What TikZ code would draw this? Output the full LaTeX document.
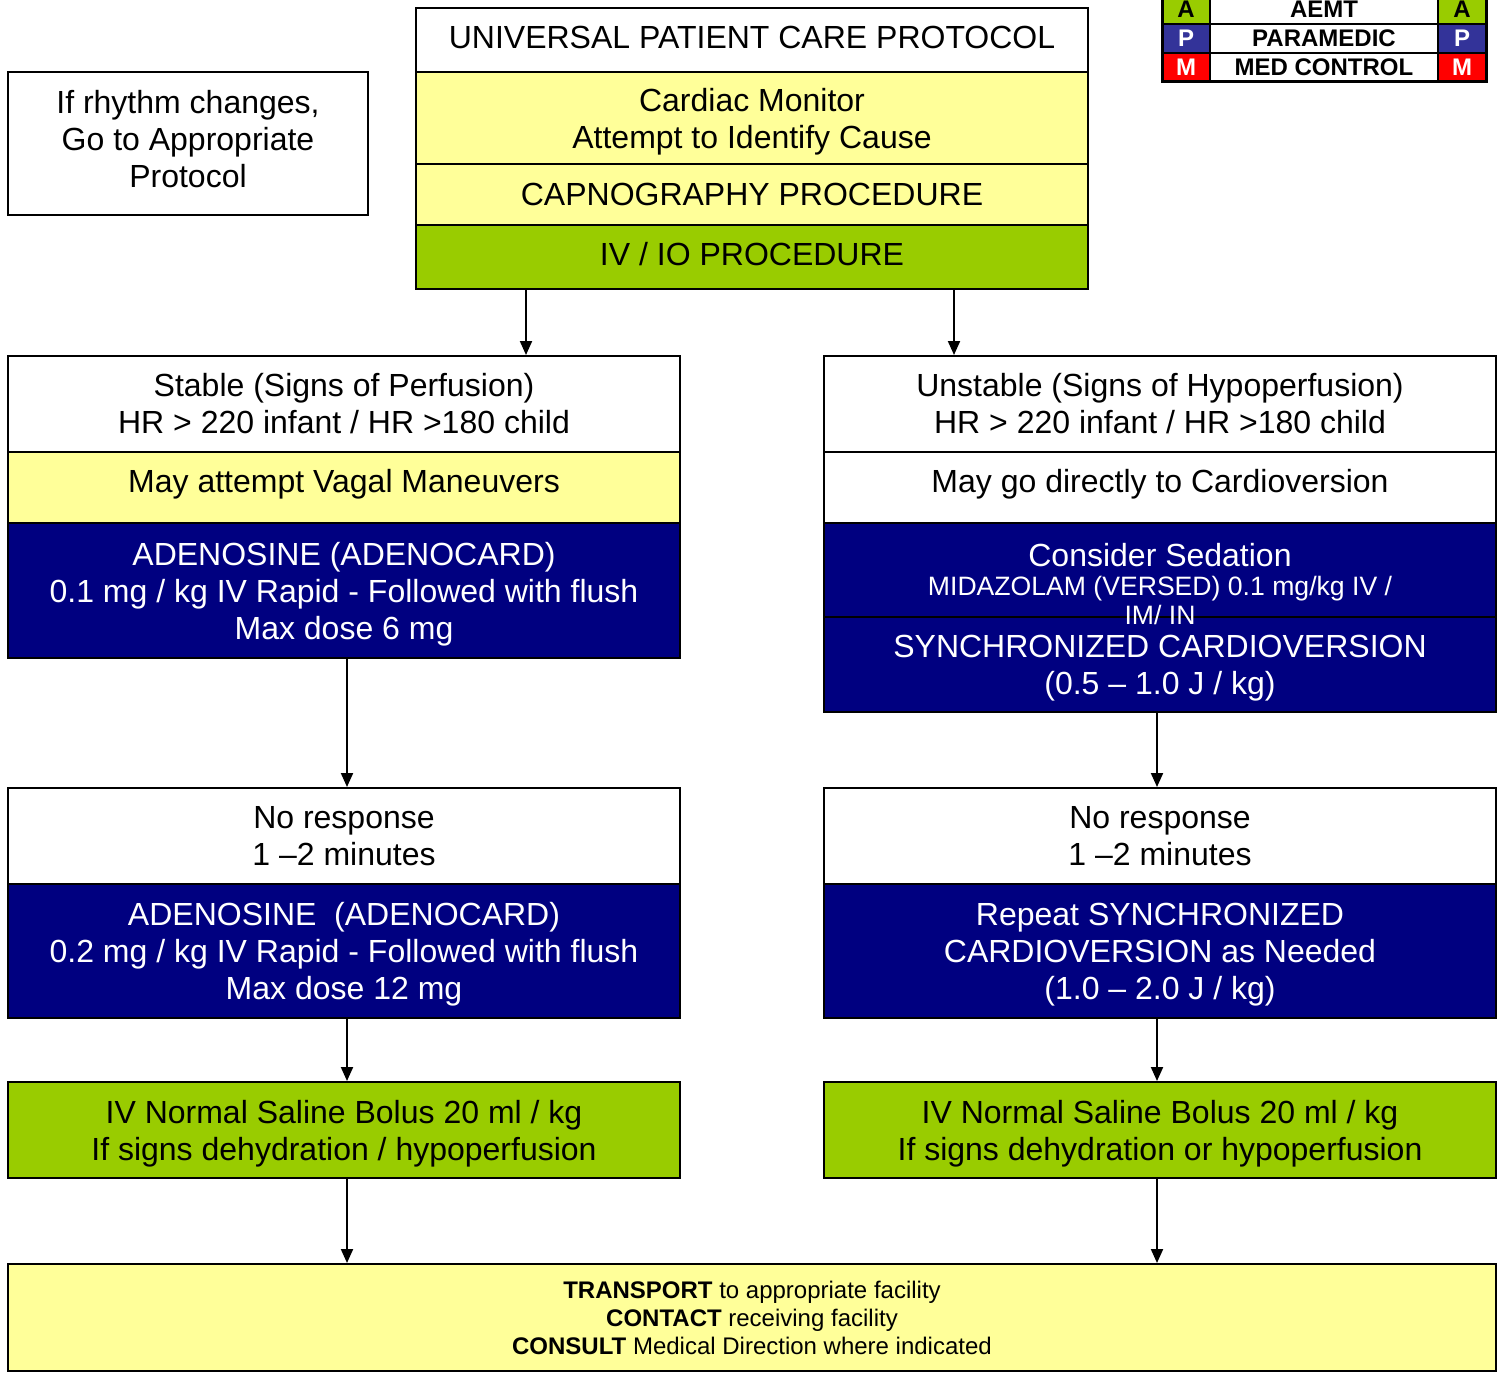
\documentclass[tikz,border=0pt]{standalone}
\usepackage{fontspec}
\setmainfont{Liberation Sans}
\usetikzlibrary{arrows.meta}
\definecolor{protoyellow}{HTML}{FFFF99}
\definecolor{protogreen}{HTML}{99CC00}
\definecolor{protonavy}{HTML}{000080}
\definecolor{legblue}{HTML}{333399}
\definecolor{legred}{HTML}{FF0000}

\begin{document}
\begin{tikzpicture}[x=1pt,y=-1pt,
  box/.style={draw=black, line width=2pt, minimum width=672pt, inner sep=0pt, align=center, font=\fontsize{32}{37}\selectfont},
  whitebox/.style={box, fill=white},
  yellowbox/.style={box, fill=protoyellow},
  greenbox/.style={box, fill=protogreen},
  navybox/.style={box, fill=protonavy, text=white},
  lowtext/.style={text depth=0pt},
  flow/.style={line width=2pt, -{Triangle[length=14pt,width=12pt]}},
  legcell/.style={draw=black, line width=2pt, inner sep=0pt, minimum height=29pt, font=\fontsize{24}{24}\selectfont\bfseries}]
\useasboundingbox (0,0) rectangle (1503,1374);

% top stack
\node[whitebox, minimum height=64pt, text depth=6pt] (upc) at (752,40) {UNIVERSAL PATIENT CARE PROTOCOL};
\node[yellowbox, lowtext, minimum height=92pt] (cardiac) at (752,118) {Cardiac Monitor\\Attempt to Identify Cause};
\node[yellowbox, minimum height=61pt] (capno) at (752,194.5) {CAPNOGRAPHY PROCEDURE};
\node[greenbox, minimum height=64pt, text depth=6pt] (ivio) at (752,257) {IV / IO PROCEDURE};

% note
\node[whitebox, minimum width=360pt, minimum height=143pt, text depth=10pt] (note) at (188,143.5) {If rhythm changes,\\Go to Appropriate\\Protocol};

% legend
\node[legcell, fill=protogreen, minimum width=48pt] (la) at (1186,9.5) {A};
\node[legcell, fill=white, minimum width=228pt] (lat) at (1324,9.5) {AEMT};
\node[legcell, fill=protogreen, minimum width=48pt] (ra) at (1462,9.5) {A};
\node[legcell, fill=legblue, text=white, minimum width=48pt] (lp) at (1186,38.5) {P};
\node[legcell, fill=white, minimum width=228pt] (lpt) at (1324,38.5) {PARAMEDIC};
\node[legcell, fill=legblue, text=white, minimum width=48pt] (rp) at (1462,38.5) {P};
\node[legcell, fill=legred, text=white, minimum width=48pt, minimum height=28pt] (lm) at (1186,67) {M};
\node[legcell, fill=white, minimum width=228pt, minimum height=28pt] (lmt) at (1324,67) {MED CONTROL};
\node[legcell, fill=legred, text=white, minimum width=48pt, minimum height=28pt] (rm) at (1462,67) {M};
\draw[line width=3pt] (1162,-6) rectangle (1486,81);

% stable side
\node[whitebox, minimum height=96pt] (stab) at (344,404) {Stable (Signs of Perfusion)\\HR > 220 infant / HR >180 child};
\node[yellowbox, minimum height=71pt, text depth=14pt] (vagal) at (344,487.5) {May attempt Vagal Maneuvers};
\node[navybox, lowtext, minimum height=135pt] (aden1) at (344,590.5) {ADENOSINE (ADENOCARD)\\0.1 mg / kg IV Rapid - Followed with flush\\Max dose 6 mg};
\node[whitebox, minimum height=96pt] (nor1) at (344,836) {No response\\1 --2 minutes};
\node[navybox, lowtext, minimum height=134pt] (aden2) at (344,951) {ADENOSINE\ \ (ADENOCARD)\\0.2 mg / kg IV Rapid - Followed with flush\\Max dose 12 mg};
\node[greenbox, lowtext, minimum height=96pt] (ns1) at (344,1130) {IV Normal Saline Bolus 20 ml / kg\\If signs dehydration / hypoperfusion};

% unstable side
\node[whitebox, minimum height=96pt] (unst) at (1160,404) {Unstable (Signs of Hypoperfusion)\\HR > 220 infant / HR >180 child};
\node[whitebox, minimum height=71pt, text depth=14pt] (direct) at (1160,487.5) {May go directly to Cardioversion};
\node[navybox, lowtext, minimum height=95pt] (cardio) at (1160,664.5) {SYNCHRONIZED CARDIOVERSION\\(0.5 -- 1.0 J / kg)};
\node[navybox, minimum height=94pt] (sedat) at (1160,570) {};
\node[text=white, align=center, inner sep=0pt, font=\fontsize{26.6}{29}\selectfont] (sedtxt) at (1160,584)
  {{\fontsize{32}{32}\selectfont Consider Sedation}\\MIDAZOLAM (VERSED) 0.1 mg/kg IV /\\IM/ IN};
\node[whitebox, minimum height=96pt] (nor2) at (1160,836) {No response\\1 --2 minutes};
\node[navybox, lowtext, minimum height=134pt] (rep) at (1160,951) {Repeat SYNCHRONIZED\\CARDIOVERSION as Needed\\(1.0 -- 2.0 J / kg)};
\node[greenbox, lowtext, minimum height=96pt] (ns2) at (1160,1130) {IV Normal Saline Bolus 20 ml / kg\\If signs dehydration or hypoperfusion};

% transport
\node[yellowbox, minimum width=1488pt, minimum height=107pt, font=\fontsize{24}{28}\selectfont] (trans) at (752,1317.5)
  {\textbf{TRANSPORT} to appropriate facility\\\textbf{CONTACT} receiving facility\\\textbf{CONSULT} Medical Direction where indicated};

% arrows
\draw[flow] (526,0 |- ivio.south) -- (526,0 |- stab.north);
\draw[flow] (954,0 |- ivio.south) -- (954,0 |- unst.north);
\draw[flow] (347,0 |- aden1.south) -- (347,0 |- nor1.north);
\draw[flow] (1157,0 |- cardio.south) -- (1157,0 |- nor2.north);
\draw[flow] (347,0 |- aden2.south) -- (347,0 |- ns1.north);
\draw[flow] (1157,0 |- rep.south) -- (1157,0 |- ns2.north);
\draw[flow] (347,0 |- ns1.south) -- (347,0 |- trans.north);
\draw[flow] (1157,0 |- ns2.south) -- (1157,0 |- trans.north);
\end{tikzpicture}
\end{document}
